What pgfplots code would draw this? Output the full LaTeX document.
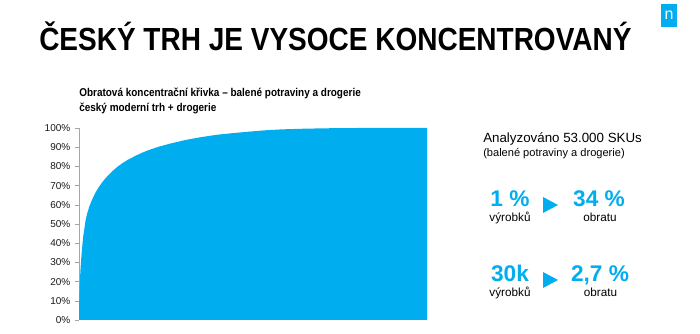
\documentclass[border=0pt]{standalone}
\usepackage{graphicx}
\usepackage{pgfplots}
\pgfplotsset{compat=1.18}
\usepackage{fontspec}
\setmainfont{Liberation Sans}
\definecolor{niel}{HTML}{00ADEE}
\begin{document}
\begin{tikzpicture}[x=0.75pt,y=0.75pt]
\path[use as bounding box] (0,0) rectangle (700,334);
% title
\node[anchor=base west, inner sep=0, font=\fontsize{24}{24}\selectfont\bfseries] at (39,334-51) {\scalebox{0.875}[1]{ČESKÝ TRH JE VYSOCE KONCENTROVANÝ}};
% logo
\fill[niel] (661,334-27) rectangle (677,334-4);
\node[text=white, font=\fontsize{12}{12}\selectfont] at (669,334-15) {n};
% subtitle
\node[anchor=base west, inner sep=0, font=\fontsize{8.5}{9}\selectfont\bfseries] at (79,334-97) {\scalebox{0.88}[1]{Obratová koncentrační křivka – balené potraviny a drogerie}};
\node[anchor=base west, inner sep=0, font=\fontsize{8.5}{9}\selectfont\bfseries] at (79,334-111.5) {\scalebox{0.88}[1]{český moderní trh + drogerie}};
% right side
\node[anchor=base west, inner sep=0, font=\fontsize{10}{11}\selectfont] at (483,334-143) {Analyzováno 53.000 SKUs};
\node[anchor=base west, inner sep=0, font=\fontsize{8.3}{9}\selectfont] at (483,334-157) {(balené potraviny a drogerie)};
\node[anchor=base, inner sep=0, text=niel, font=\fontsize{17}{17}\selectfont\bfseries] at (510,334-207) {1 \%};
\node[anchor=base, inner sep=0, font=\fontsize{8.8}{9}\selectfont] at (510,334-222) {výrobků};
\fill[niel] (543,334-197) -- (558,334-205) -- (543,334-213) -- cycle;
\node[anchor=base, inner sep=0, text=niel, font=\fontsize{17}{17}\selectfont\bfseries] at (599,334-207) {34 \%};
\node[anchor=base, inner sep=0, font=\fontsize{8.8}{9}\selectfont] at (600,334-222) {obratu};
\node[anchor=base, inner sep=0, text=niel, font=\fontsize{17}{17}\selectfont\bfseries] at (510,334-282) {30k};
\node[anchor=base, inner sep=0, font=\fontsize{8.8}{9}\selectfont] at (510,334-297) {výrobků};
\fill[niel] (543,334-272) -- (558,334-280) -- (543,334-288) -- cycle;
\node[anchor=base, inner sep=0, text=niel, font=\fontsize{17}{17}\selectfont\bfseries] at (600,334-282) {2,7 \%};
\node[anchor=base, inner sep=0, font=\fontsize{8.8}{9}\selectfont] at (600.5,334-297) {obratu};
\begin{axis}[
  at={(59.25pt,10.5pt)}, anchor=south west,
  scale only axis, width=261pt, height=144pt,
  xmin=0, xmax=100, ymin=0, ymax=100,
  enlargelimits=false,
  axis x line=none, axis y line=left,
  axis line style={-, draw=gray!70},
  ytick={0,10,...,100},
  yticklabel={\pgfmathprintnumber{\tick}\%},
  tick align=outside, major tick length=3pt,
  tick style={draw=gray!70},
  /pgf/number format/assume math mode=true,
  yticklabel style={font=\fontsize{7.5}{8}\selectfont, text=black!90},
]
\addplot[fill=niel, draw=none] table {
x y
0 0
0.05 8
0.1 11.5
0.2 17.5
0.3 22
0.45 27
0.6 31
0.8 35.5
1.0 39.5
1.2 43.5
1.5 47
1.9 52
2.4 55.8
3.0 59.2
3.6 62
4.3 64.8
5.0 67.2
5.75 69.4
6.7 71.8
7.7 74
8.8 76.1
9.9 78
11.2 80
12.5 81.7
13.9 83.3
15.7 85
17.7 86.8
20.2 88.6
23 90.3
26.5 92
30.7 93.8
35 95.2
39.3 96.4
44 97.3
48.9 98.1
53.5 98.8
58.5 99.3
65 99.65
72.9 99.9
80 100
100 100
} \closedcycle;
\end{axis}
\end{tikzpicture}
\end{document}
